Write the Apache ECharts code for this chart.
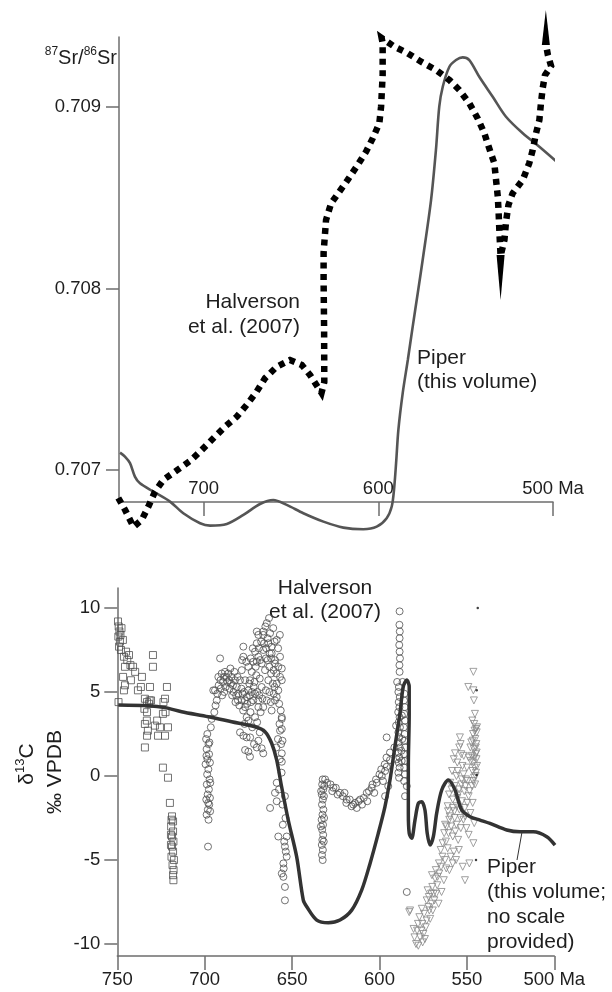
<!DOCTYPE html>
<html><head><meta charset="utf-8">
<script src="https://cdn.jsdelivr.net/npm/echarts@6/dist/echarts.min.js"></script>
<style>html,body{margin:0;padding:0;background:#fff}#c{width:612px;height:992px}</style>
</head><body><div id="c"></div>
<script>
// ---------- Top panel: 87Sr/86Sr ----------
const srTicks = [0.707, 0.708, 0.709];
const srAgeTicks = [700, 600, 500];
const piperSr = [[747.8,0.707097],[745.0,0.707075],[742.1,0.707039],[739.3,0.706965],[736.4,0.706928],[728.7,0.706882],[719.2,0.706827],[711.6,0.706763],[702.0,0.706708],[696.3,0.706695],[686.7,0.706704],[677.2,0.706754],[667.7,0.706814],[660.1,0.706836],[652.4,0.706809],[642.9,0.706763],[631.4,0.706717],[620.0,0.706684],[608.6,0.706675],[600.9,0.706689],[595.2,0.706736],[592.3,0.706800],[591.0,0.706892],[589.8,0.707040],[588.5,0.707222],[586.0,0.707426],[583.1,0.707607],[580.3,0.707791],[577.4,0.707976],[574.6,0.708158],[569.8,0.708488],[567.0,0.708764],[565.1,0.709002],[563.1,0.709112],[559.3,0.709222],[555.5,0.709259],[551.7,0.709274],[547.9,0.709259],[542.2,0.709167],[534.5,0.709057],[526.9,0.708947],[517.3,0.708856],[507.8,0.708782],[496.4,0.708687]];
const halversonSr = [[748.8,0.706847],[744.9,0.706781],[740.1,0.706688],[735.4,0.706726],[731.6,0.706800],[727.8,0.706882],[723.0,0.706947],[715.3,0.706999],[707.7,0.707051],[701.0,0.707112],[694.4,0.707176],[687.7,0.707240],[681.0,0.707295],[675.3,0.707360],[669.6,0.707433],[664.8,0.707507],[658.1,0.707570],[650.5,0.707607],[643.8,0.707580],[639.1,0.707525],[632.5,0.707426],[630.9,0.707486],[631.0,0.707772],[631.3,0.708048],[631.3,0.708197],[629.9,0.708378],[627.0,0.708470],[622.3,0.708534],[617.5,0.708599],[611.8,0.708681],[607.0,0.708754],[603.2,0.708828],[599.4,0.708911],[598.4,0.709002],[597.5,0.709177],[597.5,0.709351],[598.1,0.709381],[590.8,0.709333],[583.1,0.709296],[575.5,0.709250],[566.9,0.709204],[559.3,0.709149],[553.6,0.709094],[547.9,0.709021],[543.1,0.708938],[539.3,0.708856],[536.5,0.708773],[533.6,0.708691],[532.6,0.708599],[531.6,0.708507],[531.1,0.708415],[530.6,0.708296],[530.0,0.708180],[527.8,0.708268],[526.9,0.708367],[525.5,0.708461],[523.1,0.708525],[517.3,0.708599],[513.6,0.708691],[511.6,0.708764],[509.7,0.708856],[507.8,0.708929],[506.9,0.709021],[505.9,0.709104],[504.6,0.709176],[501.1,0.709226],[502.9,0.709286],[504.0,0.709342]];
// spikes: [baseAge, baseValue, tipAge, tipValue]
const halversonSrSpikes = [[530.0,0.708186,530.0,0.707938],[504.1,0.709342,504.1,0.709535]];

// ---------- Bottom panel: d13C ----------
const c13Ticks = [-10, -5, 0, 5, 10];
const c13AgeTicks = [750, 700, 650, 600, 550, 500];
const piperC13 = [[749.4,4.23],[732.3,4.18],[722.7,4.07],[713.2,3.83],[697.9,3.53],[684.6,3.23],[671.2,2.93],[665.5,2.64],[661.7,1.95],[658.8,0.95],[656.0,-0.64],[652.2,-2.62],[647.4,-4.80],[643.6,-7.38],[641.6,-7.78],[635.9,-8.57],[629.3,-8.73],[622.6,-8.57],[615.9,-7.98],[610.2,-6.79],[605.4,-5.20],[600.7,-3.41],[596.9,-1.83],[594.0,-0.24],[591.2,1.74],[588.3,3.73],[586.4,5.32],[584.4,5.71],[583.0,5.32],[583.0,3.73],[583.5,0.55],[583.5,-2.22],[583.0,-3.41],[581.6,-3.71],[579.7,-2.62],[577.8,-1.63],[575.9,-1.53],[574.0,-2.02],[572.7,-3.41],[571.1,-4.11],[569.2,-3.61],[567.3,-2.22],[564.4,-0.83],[560.6,-0.24],[556.8,-0.83],[553.0,-2.02],[548.2,-2.42],[542.5,-2.62],[536.8,-2.82],[527.2,-3.21],[519.6,-3.32],[512.0,-3.32],[504.3,-3.61],[499.6,-4.11]];
const c13Squares = [[749.6,9.2],[749.2,8.9],[748.8,8.6],[749.4,8.3],[748.5,8.0],[749.0,7.7],[748.2,8.4],[747.6,8.8],[747.9,7.5],[746.8,8.1],[746.2,7.1],[745.0,7.4],[744.3,6.9],[743.3,7.2],[742.5,6.6],[741.0,6.5],[739.8,6.2],[745.6,6.5],[746.7,5.9],[745.6,5.4],[746.2,5.1],[749.3,4.4],[729.6,7.2],[729.6,6.5],[735.9,5.9],[736.5,5.3],[731.3,5.3],[721.6,5.3],[734.2,4.6],[733.0,4.4],[731.5,4.5],[730.7,4.5],[722.7,4.6],[723.6,4.4],[733.0,3.8],[734.5,4.0],[723.9,3.7],[722.4,3.8],[734.2,3.1],[733.1,3.3],[725.6,2.9],[721.0,2.9],[733.0,2.4],[726.7,2.4],[722.7,2.4],[734.2,1.7],[723.9,0.5],[721.0,-0.1],[719.9,-1.6],[718.7,-2.4],[718.1,-2.7],[719.2,-3.0],[718.1,-3.3],[718.7,-3.6],[717.9,-3.9],[718.7,-4.2],[718.1,-4.5],[719.0,-4.8],[717.6,-5.0],[718.4,-5.3],[717.8,-5.6],[718.1,-5.9],[717.9,-6.2],[719.3,-3.5],[719.3,-4.1],[719.0,-2.6],[738.2,5.1],[742.2,5.7],[727.2,3.3],[731.9,4.3],[728.5,3.0],[732.5,2.7]];
const c13Circles = [
[698.5,2.5],[699.2,2.2],[697.8,1.9],[698.9,1.6],[697.5,1.3],[698.4,1.0],[699.5,0.7],[697.9,0.4],[698.6,0.1],[697.2,-0.2],[698.8,-0.5],[697.6,-0.8],[698.3,-1.1],[699.1,-1.4],[697.4,-1.7],[698.2,-2.0],[698.9,-2.3],[697.8,-2.6],[698.1,-4.2],[697.0,0.8],[696.8,-0.4],[697.0,-1.3],[696.9,-2.1],[699.0,1.2],[698.0,-1.6],[697.3,2.0],[696.5,2.9],[696.0,3.4],
[695.1,5.1],[694.1,5.1],[693.1,4.5],[694.5,3.8],[693.8,4.2],[692.2,5.9],[690.3,6.1],[691.2,7.0],[688.4,6.2],[686.5,6.1],[684.6,5.9],[682.7,5.7],[681.7,5.3],[680.8,4.9],[678.8,4.5],[676.9,4.1],[692.0,5.4],[691.0,5.7],[689.5,5.6],[688.0,5.3],[687.0,5.6],[685.8,5.2],[685.0,5.5],[683.5,5.0],[682.0,4.8],[681.0,4.5],[689.0,5.9],[687.5,5.9],[686.0,5.7],[683.8,5.4],[690.8,5.2],[692.8,4.9],[684.3,4.8],[682.4,4.4],
[676.0,4.7],[675.0,5.1],[674.1,5.7],[673.1,6.2],[672.2,6.8],[671.2,7.4],[670.2,7.9],[669.3,8.4],[666.5,8.6],[664.5,9.1],[662.6,8.5],[663.6,7.9],[661.7,7.3],[659.8,6.9],[657.9,6.5],[656.9,5.9],[658.8,5.5],[657.9,5.1],[659.8,4.5],[661.7,3.9],[666.5,4.1],[669.3,4.5],[671.2,4.9],[667.4,5.3],[663.6,5.7],[665.5,6.3],[667.4,6.7],[669.3,7.1],[666.5,7.5],[661.7,7.7],[659.8,6.7],[677.9,7.7],[677.9,7.1],[675.0,6.5],[678.8,6.3],[676.9,5.7],[679.8,5.7],[674.1,4.8],[672.2,4.5],[671.2,3.5],[669.3,4.1],[676.0,3.5],[675.0,3.3],[655.9,3.5],[655.9,2.8],[679.8,2.6],[677.9,2.4],[676.0,2.3],[669.3,2.1],[670.2,1.7],[676.9,1.55],[674.1,1.15],[675.0,1.45],[667.4,1.65],[666.5,1.35],[655.9,1.35],[655.9,0.85],[670.2,8.6],[666.5,8.4],[658.8,8.1],[656.9,7.1],[655.9,6.4],[655.9,5.7],[658.8,4.7],[655.9,3.4],[656.9,2.7],[664.0,8.2],[665.0,7.0],[663.0,6.5],[662.0,6.1],[661.0,5.5],[660.5,4.9],[664.5,4.5],[668.0,3.8],[670.0,3.2],[672.8,2.9],[673.8,3.8],[668.5,5.8],[670.5,6.0],[672.0,5.3],[673.5,4.4],[664.0,6.9],[662.0,7.0],[660.0,8.0],[658.0,7.6],[657.0,8.4],[660.8,8.8],[663.2,9.4],[665.3,8.9],[667.7,8.0],[669.0,7.6],[670.8,6.5],[674.5,5.5],[677.5,5.0],[678.0,3.9],[677.2,3.1],[674.0,2.3],[671.8,1.9],[668.5,2.6],
[680.2,4.2],[679.0,5.2],[678.3,4.9],[677.0,4.5],[675.8,4.3],[673.0,5.0],[671.5,5.6],[670.0,5.0],[668.8,4.8],[667.0,4.6],[665.0,5.1],[663.0,5.0],[662.2,4.4],[660.0,5.3],[659.0,6.1],[660.6,6.3],[662.8,7.3],[664.8,7.6],[666.0,7.9],[668.3,6.9],[670.2,6.8],[672.5,7.6],[673.7,7.0],[676.2,6.8],[678.6,6.9],[681.2,5.9],[683.0,6.2],[685.3,6.4],[688.8,5.0],[690.0,4.8],[657.4,4.3],[656.5,3.9],[657.2,3.1],[658.1,2.2],[659.0,1.7],[655.5,2.1],[656.3,1.9],[657.0,1.0],
[658.8,-0.4],[659.8,-1.0],[662.6,-1.9],[658.8,-1.5],[654.1,-1.2],[657.9,-3.6],[653.1,-3.6],[654.1,-4.2],[653.1,-4.8],[655.0,-5.2],[655.0,-6.0],[654.1,-6.6],[654.1,-7.4],[655.9,-5.8],[654.5,-3.9],[653.6,-4.5],[654.8,-5.5],[653.8,-2.5],[655.3,-2.9],[656.0,0.2],[657.5,-0.8],[655.5,-1.7],
[632.5,-0.2],[632.8,-0.5],[632.2,-0.8],[633.0,-1.1],[632.4,-1.4],[632.9,-1.7],[632.1,-2.0],[632.6,-2.3],[633.1,-2.6],[632.3,-2.9],[632.8,-3.2],[632.2,-3.5],[632.7,-3.8],[633.0,-4.1],[632.4,-4.4],[632.9,-4.7],[632.5,-5.0],[631.8,-1.2],[631.7,-2.5],[631.9,-3.9],[633.4,-0.9],[633.5,-3.0],[631.6,-0.6],
[631.1,-0.2],[630.0,-0.4],[628.0,-0.5],[627.0,-0.9],[626.4,-0.7],[625.0,-0.7],[624.0,-1.1],[622.6,-1.0],[621.0,-1.2],[620.0,-1.0],[618.8,-1.4],[619.0,-1.6],[617.0,-1.4],[616.0,-1.8],[615.0,-1.7],[614.0,-1.6],[613.0,-1.9],[612.0,-1.5],[611.1,-1.4],[610.0,-1.7],[609.0,-1.3],[607.3,-1.0],[607.0,-1.5],[606.0,-0.9],[604.5,-0.7],[604.0,-0.5],[603.0,-1.0],[601.6,-0.4],[602.0,-0.2],[600.0,0.1],[598.7,0.0],[599.0,0.4],[598.0,-0.3],[597.0,0.7],[596.8,0.3],[595.9,0.55],[596.0,1.1],[595.0,-0.6],[594.0,1.4],[594.0,0.95],[596.8,-1.2],[595.9,2.3],[591.5,1.7],
[588.5,9.8],[588.6,9.0],[588.4,8.6],[588.5,8.2],[588.7,7.8],[588.5,7.4],[588.3,7.0],[588.6,6.6],[588.5,6.2],[589.9,5.6],[588.9,5.3],[589.2,5.0],[588.4,4.7],[589.0,4.4],[588.6,4.1],[589.3,3.8],[588.5,3.5],[589.0,3.2],[588.3,2.9],[589.2,2.6],[588.7,2.3],[589.0,2.0],[588.4,1.7],[589.1,1.4],[588.6,1.1],[589.0,0.8],[588.5,0.5],[589.2,0.2],[588.8,-0.1],[585.8,4.9],[586.0,4.5],[585.6,4.1],[585.9,3.7],[585.5,3.3],[586.1,2.9],[585.7,2.5],[585.9,2.1],[585.4,1.7],[586.0,1.3],[585.6,0.9],[585.8,0.5],[585.5,0.1],[585.9,-0.3],[584.4,-0.6],[585.4,-1.2],[587.2,3.6],[587.0,2.2],[587.3,0.9],[586.8,5.6],[587.5,1.5],[584.4,-6.9],[590.5,3.0],[590.2,1.0]
];
const c13Triangles = [
[546.3,6.2],[549.2,5.3],[546.3,5.1],[546.0,4.5],[545.4,3.7],[545.8,3.1],[544.8,2.8],[546.5,2.5],[545.2,2.2],[544.6,1.9],[546.0,1.6],[545.0,1.3],[544.5,1.0],[546.2,0.8],[545.5,0.5],[544.8,0.2],[545.9,-0.1],[544.4,2.6],[544.4,1.4],[545.0,0.0],[546.9,3.3],[547.2,1.2],[547.5,2.0],[546.8,0.3],
[554.0,2.3],[553.6,1.9],[554.4,1.7],[556.8,1.35],[557.5,1.0],[555.5,0.8],[552.5,0.6],[558.5,0.3],[556.0,0.0],[553.0,-0.2],[559.5,-0.4],[550.5,-0.2],[557.0,-0.6],[554.5,-0.8],[551.5,-0.9],[560.2,-1.1],[558.1,-1.4],[555.5,-1.3],[552.8,-1.5],[549.0,-1.2],[546.7,-1.6],[561.0,-1.8],[554.3,-2.0],[557.2,-2.1],[559.8,-2.4],[560.1,-2.6],[551.0,-2.4],[548.0,-2.2],[545.8,-2.8],[562.5,-2.9],[556.0,-2.9],[553.5,-3.1],[558.1,-3.6],[560.5,-3.4],[563.9,-4.0],[555.0,-3.8],[561.0,-4.3],[557.5,-4.5],[546.3,-4.0],[562.5,-5.0],[558.1,-5.2],[552.4,-5.4],[548.6,-5.2],[551.1,-6.2],[560.0,-5.6],[565.8,-5.8],[563.2,-6.2],[567.0,-6.5],[564.5,-6.9],[570.5,-7.0],[568.6,-7.4],[566.2,-7.6],[572.0,-7.8],[569.5,-8.0],[574.5,-8.2],[571.0,-8.5],[577.2,-8.4],[583.0,-8.1],[582.5,-8.0],[575.5,-8.8],[573.5,-9.0],[578.5,-9.2],[574.9,-9.4],[576.8,-9.6],[579.1,-10.0],[575.3,-9.9],[577.8,-10.1],[580.5,-9.1],[571.8,-7.2],[568.2,-6.1],[566.0,-5.2],[564.0,-4.8],[562.0,-3.9],[559.0,-3.0],[557.0,-2.5],[555.8,-1.8],[553.2,-0.5],[550.0,0.5],[549.0,1.1],[548.0,1.7],[551.8,1.2],[558.8,-0.8],[563.0,-3.4],[565.0,-4.4],[567.8,-5.6],[569.8,-6.6],[573.0,-7.4],[575.8,-7.9],[572.5,-6.8],[570.0,-5.9],
[544.2,2.9],[545.6,2.7],[546.6,2.1],[544.9,1.7],[545.7,1.1],[544.2,0.6],[546.4,-0.3],[545.3,-0.5],[547.8,0.9],[547.0,-0.6],[548.5,-0.9],[549.6,-0.3],[550.8,-0.6],[549.8,-1.6],[551.2,-1.9],[552.0,-2.6],[553.7,-2.5],[550.3,-3.1],[549.0,-3.5],[556.6,-3.3],[554.6,-4.4],[556.2,-5.0],[559.3,-4.8],[561.8,-5.5],[555.0,-1.1],[558.0,-1.9],[560.8,-2.1],[561.6,-3.0],[564.8,-5.4],[566.8,-6.0],[569.0,-7.0],[571.5,-8.0],[573.0,-8.6],[576.0,-9.2],[578.0,-8.8],[570.2,-7.6],[567.5,-7.0],[574.0,-9.7],[580.0,-9.6],[552.0,0.1],[555.3,0.3],[553.2,1.3]
];
const c13Dots = [[543.8,10.0],[544.4,5.1],[544.4,0.06],[544.8,-5.0]];

const FONT = "'Liberation Sans', Arial, sans-serif";
const axisCol = '#6e6e6e';
const txtCol = '#1e1e1e';

const chart = echarts.init(document.getElementById('c'), null, {renderer: 'canvas'});

function xAxisDef(grid, min, max, ticks, inside, margin) {
  return {
    gridIndex: grid, type: 'value', inverse: true, min: min, max: max,
    axisLine: {show: true, onZero: false, lineStyle: {color: axisCol, width: 1.5}},
    axisTick: {show: true, customValues: ticks, length: 14, inside: false, lineStyle: {color: axisCol, width: 1.5}},
    axisLabel: {show: true, customValues: ticks, inside: inside, margin: margin, color: txtCol, fontSize: 18.5, fontFamily: FONT,
      formatter: v => (v === 500 ? '500 Ma' : String(v))},
    splitLine: {show: false}
  };
}
function yAxisDef(grid, min, max, ticks, fmt, margin) {
  return {
    gridIndex: grid, type: 'value', min: min, max: max,
    axisLine: {show: true, onZero: false, lineStyle: {color: axisCol, width: 1.5}},
    axisTick: {show: true, customValues: ticks, length: 13, inside: false, lineStyle: {color: axisCol, width: 1.5}},
    axisLabel: {show: true, customValues: ticks, margin: margin, color: txtCol, fontSize: 18.5, fontFamily: FONT, formatter: fmt},
    splitLine: {show: false}
  };
}

const ann = (text, x, y, align) => ({
  type: 'text', x: x, y: y, silent: true,
  style: {text: text, x: 0, y: 0, fill: txtCol, font: "21px 'Liberation Sans', Arial, sans-serif", align: align, verticalAlign: 'middle', textAlign: align, textVerticalAlign: 'middle'}
});

const option = {
  animation: false,
  backgroundColor: '#ffffff',
  grid: [
    {left: 119, top: 37, width: 434, height: 465},
    {left: 117.3, top: 588, width: 437, height: 368}
  ],
  xAxis: [
    xAxisDef(0, 500, 748.4, srAgeTicks, true, 4),
    xAxisDef(1, 500, 750, c13AgeTicks, false, 14)
  ],
  yAxis: [
    yAxisDef(0, 0.706825, 0.709386, srTicks, v => v.toFixed(3), 18),
    yAxisDef(1, -10.71, 11.19, c13Ticks, v => String(v), 17)
  ],
  series: [
    {type: 'line', xAxisIndex: 0, yAxisIndex: 0, data: piperSr, smooth: 0.3, showSymbol: false, clip: false,
      lineStyle: {color: '#555555', width: 2.6}, z: 3},
    {type: 'line', xAxisIndex: 0, yAxisIndex: 0, data: halversonSr, smooth: false, showSymbol: false, clip: false,
      lineStyle: {color: '#000000', width: 6.5, type: [6, 5.5], cap: 'butt', join: 'miter', miterLimit: 4}, z: 4},
    {type: 'custom', xAxisIndex: 0, yAxisIndex: 0, data: halversonSrSpikes, clip: false, z: 5,
      renderItem: (params, api) => {
        const b = api.coord([api.value(0), api.value(1)]);
        const t = api.coord([api.value(2), api.value(3)]);
        const hw = 4;
        return {type: 'polygon', shape: {points: [[b[0] - hw, b[1]], [b[0] + hw, b[1]], [t[0], t[1]]]}, style: {fill: '#000'}};
      }},
    {type: 'scatter', xAxisIndex: 1, yAxisIndex: 1, data: c13Squares, symbol: 'rect', symbolSize: 7,
      itemStyle: {color: 'rgba(0,0,0,0)', borderColor: '#505050', borderWidth: 1}, z: 2},
    {type: 'scatter', xAxisIndex: 1, yAxisIndex: 1, data: c13Circles, symbol: 'circle', symbolSize: 7,
      itemStyle: {color: 'rgba(0,0,0,0)', borderColor: '#505050', borderWidth: 1}, z: 2},
    {type: 'scatter', xAxisIndex: 1, yAxisIndex: 1, data: c13Triangles, symbol: 'triangle', symbolRotate: 180, symbolSize: 7,
      itemStyle: {color: 'rgba(0,0,0,0)', borderColor: '#888888', borderWidth: 1}, z: 2},
    {type: 'scatter', xAxisIndex: 1, yAxisIndex: 1, data: c13Dots, symbol: 'circle', symbolSize: 2.5,
      itemStyle: {color: '#111'}, z: 2},
    {type: 'line', xAxisIndex: 1, yAxisIndex: 1, data: piperC13, smooth: 0.3, showSymbol: false, clip: false,
      lineStyle: {color: '#333333', width: 3.5}, z: 4}
  ],
  graphic: [
    {type: 'text', x: 117, y: 57, silent: true,
      style: {text: '{s|87}{n|Sr/}{s|86}{n|Sr}', x: 0, y: 0, align: 'right', verticalAlign: 'middle', textAlign: 'right', textVerticalAlign: 'middle', fill: txtCol,
        rich: {s: {fontSize: 12, fontFamily: FONT, fill: txtCol, verticalAlign: 'top', lineHeight: 22}, n: {fontSize: 20, fontFamily: FONT, fill: txtCol, verticalAlign: 'bottom', lineHeight: 22}}}},
    ann('Halverson', 300, 302, 'right'),
    ann('et al. (2007)', 300, 327, 'right'),
    ann('Piper', 417, 358, 'left'),
    ann('(this volume)', 417, 382, 'left'),
    ann('Halverson', 325, 588, 'center'),
    ann('et al. (2007)', 325, 612, 'center'),
    ann('Piper', 487, 867, 'left'),
    ann('(this volume;', 487, 892, 'left'),
    ann('no scale', 487, 917, 'left'),
    ann('provided)', 487, 942, 'left'),
    {type: 'line', silent: true, shape: {x1: 522, y1: 832, x2: 517, y2: 860}, style: {stroke: '#333', lineWidth: 1}},
    {type: 'text', x: 26, y: 764, rotation: Math.PI / 2, silent: true,
      style: {text: '{n|δ}{s|13}{n|C}', x: 0, y: 0, align: 'center', verticalAlign: 'middle', textAlign: 'center', textVerticalAlign: 'middle', fill: txtCol,
        rich: {s: {fontSize: 13, fontFamily: FONT, fill: txtCol, verticalAlign: 'top', lineHeight: 24}, n: {fontSize: 21, fontFamily: FONT, fill: txtCol, verticalAlign: 'bottom', lineHeight: 24}}}},
    {type: 'text', x: 55, y: 772, rotation: Math.PI / 2, silent: true,
      style: {text: '‰ VPDB', x: 0, y: 0, align: 'center', verticalAlign: 'middle', textAlign: 'center', textVerticalAlign: 'middle', fill: txtCol,
        font: "21px 'Liberation Sans', Arial, sans-serif"}}
  ]
};
chart.setOption(option);
</script>
</body></html>
